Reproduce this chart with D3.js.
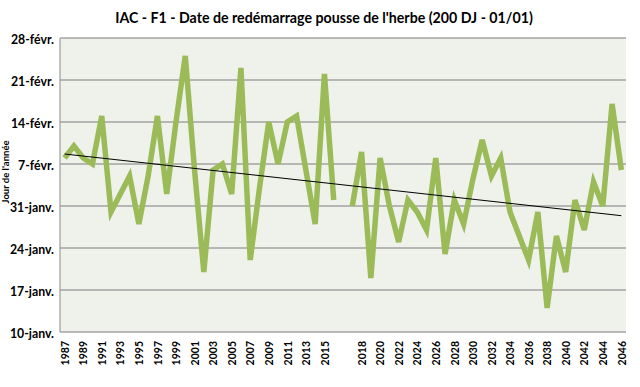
<!DOCTYPE html>
<html>
<head>
<meta charset="utf-8">
<script src="https://cdn.jsdelivr.net/npm/d3@7"></script>
<style>
  html, body { margin: 0; padding: 0; background: #ffffff; }
  svg { display: block; }
  text { font-family: Lato, "Liberation Sans", sans-serif; font-weight: bold; fill: #000; }
</style>
</head>
<body>
<svg id="chart" width="640" height="387"></svg>
<script>
// ---- data ----
const categories = [
  "1987","1988","1989","1990","1991","1992","1993","1994","1995","1996",
  "1997","1998","1999","2000","2001","2002","2003","2004","2005","2006",
  "2007","2008","2009","2010","2011","2012","2013","2014","2015","2016",
  "",
  "2017","2018","2019","2020","2021","2022","2023","2024","2025","2026",
  "2027","2028","2029","2030","2031","2032","2033","2034","2035","2036",
  "2037","2038","2039","2040","2041","2042","2043","2044","2045","2046"
];
// day of year (1 = 1 Jan)
const values = [
  39, 41, 39, 38, 46, 30, 33, 36, 28, 36,
  46, 33, 45, 56, 37, 20, 37, 38, 33, 54,
  22, 34, 45, 38, 45, 46, 37, 28, 53, 32,
  null,
  31, 40, 19, 39, 31, 25, 32, 30, 27, 39,
  23, 32, 28, 35.5, 42, 36, 39, 30, 26, 22,
  30, 14, 26, 20, 32, 27, 35, 31, 48, 37
];
const yTickValues = [10, 17, 24, 31, 38, 45, 52, 59];
const yTickLabels = ["10-janv.", "17-janv.", "24-janv.", "31-janv.", "7-févr.", "14-févr.", "21-févr.", "28-févr."];
const titleText = "IAC - F1 - Date de redémarrage pousse de l'herbe (200 DJ - 01/01)";
const yAxisTitle = "Jour de l'année";

// ---- layout ----
const svg = d3.select("#chart");
const plot = { left: 60, right: 626, top: 38, bottom: 332 };

const x = d3.scalePoint()
  .domain(d3.range(categories.length))
  .range([plot.left, plot.right])
  .padding(0.5);

const y = d3.scaleLinear()
  .domain([10, 59])
  .range([plot.bottom, plot.top]);

// plot background
svg.append("rect")
  .attr("x", plot.left).attr("y", plot.top)
  .attr("width", plot.right - plot.left).attr("height", plot.bottom - plot.top)
  .attr("fill", "#eff2ea");

// gridlines
svg.append("g")
  .selectAll("line")
  .data(yTickValues)
  .join("line")
  .attr("x1", plot.left).attr("x2", plot.right)
  .attr("y1", d => y(d)).attr("y2", d => y(d))
  .attr("stroke", "#a3a3a3").attr("stroke-width", 1.3);

// left axis line
svg.append("line")
  .attr("x1", plot.left).attr("x2", plot.left)
  .attr("y1", plot.top).attr("y2", plot.bottom)
  .attr("stroke", "#a3a3a3").attr("stroke-width", 1.3);

// y axis labels
const yAxis = d3.axisLeft(y)
  .tickValues(yTickValues)
  .tickFormat((d, i) => yTickLabels[i])
  .tickSize(0)
  .tickPadding(6);
const gy = svg.append("g").attr("transform", `translate(${plot.left},0)`).call(yAxis);
gy.select(".domain").remove();
gy.selectAll("text")
  .attr("font-family", "Lato, 'Liberation Sans', sans-serif")
  .attr("font-weight", "bold")
  .attr("font-size", 12.3)
  .attr("dy", "0.45em");

// x axis labels (every 2nd category)
const xAxis = d3.axisBottom(x)
  .tickValues(d3.range(0, categories.length, 2))
  .tickFormat(i => categories[i])
  .tickSize(0);
const gx = svg.append("g").attr("transform", `translate(0,${plot.bottom})`).call(xAxis);
gx.select(".domain").remove();
gx.selectAll("text")
  .attr("font-family", "Lato, 'Liberation Sans', sans-serif")
  .attr("font-weight", "bold")
  .attr("font-size", 10.5)
  .attr("transform", "rotate(-90)")
  .attr("text-anchor", "end")
  .attr("x", -9)
  .attr("y", 0)
  .attr("dy", "0.35em");

// data line (with gap)
const line = d3.line()
  .defined(d => d != null)
  .x((d, i) => x(i))
  .y(d => y(d));

svg.append("path")
  .datum(values)
  .attr("d", line)
  .attr("fill", "none")
  .attr("stroke", "#9bbb59")
  .attr("stroke-width", 5.5)
  .attr("stroke-linejoin", "miter")
  .attr("stroke-linecap", "butt");

// linear trend line (least squares over category positions)
const pts = values.map((v, i) => [i, v]).filter(p => p[1] != null);
const mx = d3.mean(pts, p => p[0]);
const my = d3.mean(pts, p => p[1]);
const slope = d3.sum(pts, p => (p[0] - mx) * (p[1] - my)) / d3.sum(pts, p => (p[0] - mx) ** 2);
const intercept = my - slope * mx;
const i0 = 0, i1 = categories.length - 1;
svg.append("line")
  .attr("x1", x(i0)).attr("y1", y(intercept + slope * i0))
  .attr("x2", x(i1)).attr("y2", y(intercept + slope * i1))
  .attr("stroke", "#000").attr("stroke-width", 1);

// title
svg.append("text")
  .attr("x", 324).attr("y", 23)
  .attr("text-anchor", "middle")
  .attr("font-size", 14.2)
  .text(titleText);

// y axis title
svg.append("text")
  .attr("transform", `translate(9,172) rotate(-90)`)
  .attr("text-anchor", "middle")
  .attr("font-size", 9.5)
  .text(yAxisTitle);
</script>
</body>
</html>
